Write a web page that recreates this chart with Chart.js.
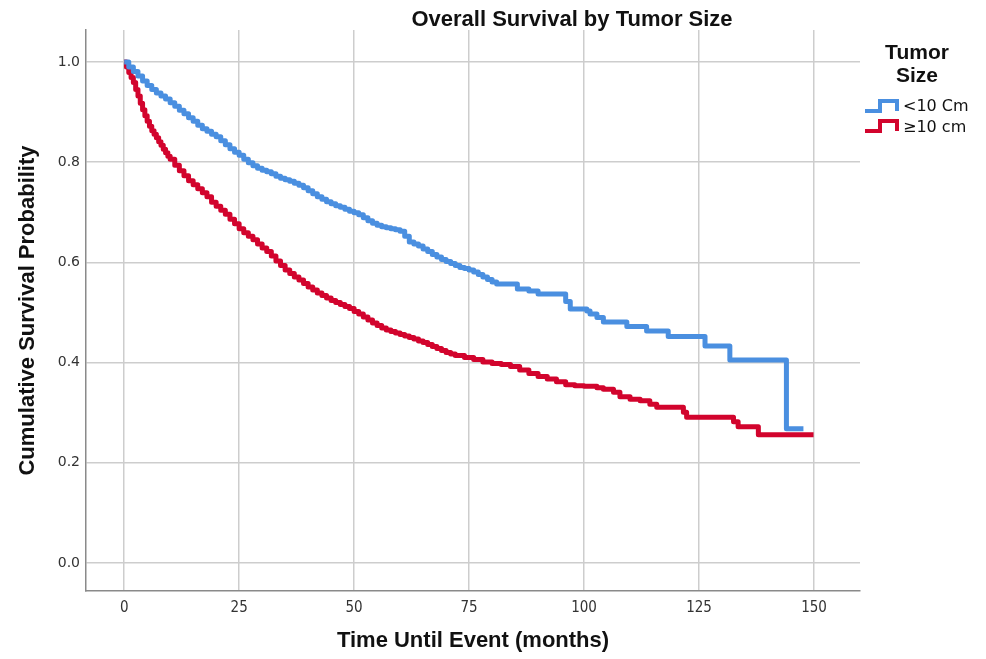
<!DOCTYPE html>
<html>
<head>
<meta charset="utf-8">
<script src="https://cdn.jsdelivr.net/npm/chart.js@4.4.1/dist/chart.umd.min.js"></script>
<style>
  html, body { margin: 0; padding: 0; background: #fff; }
  #wrap { width: 986px; height: 659px; }
</style>
</head>
<body>
<div id="wrap"><canvas id="km" width="986" height="659"></canvas></div>
<script>
// textos
const chartTitle = 'Overall Survival by Tumor Size';
const xTitle = 'Time Until Event (months)';
const yTitle = 'Cumulative Survival Probability';
const legendTitle = ['Tumor', 'Size'];
const seriesNames = ['<10 Cm', '\u226510 cm'];
const seriesColors = ['#4a8fe0', '#d2042d'];

// ejes
const xTicks = [0, 25, 50, 75, 100, 125, 150];
const yTicks = [0, 0.2, 0.4, 0.6, 0.8, 1.0];

// curva < 10 cm (tiempo en meses, supervivencia)
const smallTime = [0,1,2,3,4,5,6,7,8,9,10,11,12,13,14,15,16,17,18,19,20,
  21,22,23,24,25,26,27,28,29,30,31,32,33,34,35,36,37,38,39,40,
  41,42,43,44,45,46,47,48,49,50,51,52,53,54,55,56,57,58,59,60,
  61,62,63,64,65,66,67,68,69,70,71,72,73,74,75,76,77,78,79,80,
  81,85.5,88,90,96,97,100.6,101.3,102.8,104.2,109.3,113.6,118.3,126.3,131.7,144,147.7];
const smallSurv = [1.0,0.99,0.981,0.972,0.962,0.953,0.945,0.938,0.932,0.926,0.919,
  0.912,0.904,0.897,0.889,0.882,0.874,0.867,0.862,0.856,0.851,
  0.843,0.835,0.827,0.820,0.814,0.806,0.799,0.793,0.788,0.784,
  0.781,0.777,0.772,0.768,0.765,0.762,0.758,0.754,0.749,0.743,
  0.737,0.731,0.726,0.721,0.717,0.713,0.710,0.706,0.702,0.699,
  0.695,0.689,0.683,0.678,0.674,0.671,0.669,0.667,0.665,0.662,
  0.652,0.641,0.637,0.633,0.627,0.622,0.616,0.611,0.606,0.602,
  0.598,0.594,0.590,0.588,0.585,0.581,0.576,0.571,0.566,0.561,
  0.557,0.547,0.543,0.537,0.522,0.507,0.503,0.497,0.490,0.481,0.472,0.463,0.452,0.433,0.405,0.268,0.268];

// curva >= 10 cm
const largeTime = [0,0.5,1,1.5,2,2.5,3,3.5,4,4.5,5,5.5,6,6.5,7,7.5,8,8.5,9,9.5,10,
  11,12,13,14,15,16,17,18,19,20,21,22,23,24,25,26,27,28,29,30,
  31,32,33,34,35,36,37,38,39,40,41,42,43,44,45,46,47,48,49,50,
  51,52,53,54,55,56,57,58,59,60,61,62,63,64,65,66,67,68,69,70,
  71,72,74,76,78,80,82,84,86,88,90,92,94,96,98,100,
  102.8,104.2,106.4,107.8,110,112.2,114.3,115.8,121.6,122.3,132.5,133.5,137.9,149.9];
const largeSurv = [1.0,0.99,0.979,0.969,0.959,0.945,0.932,0.918,0.905,0.893,0.882,
  0.872,0.863,0.856,0.849,0.841,0.834,0.826,0.819,0.812,0.806,
  0.794,0.783,0.773,0.763,0.755,0.747,0.739,0.731,0.72,0.712,
  0.704,0.696,0.686,0.677,0.667,0.659,0.652,0.645,0.637,0.629,
  0.622,0.613,0.603,0.594,0.585,0.578,0.571,0.565,0.558,0.551,
  0.545,0.539,0.534,0.529,0.524,0.52,0.516,0.512,0.508,0.502,
  0.497,0.491,0.485,0.479,0.474,0.469,0.465,0.462,0.459,0.456,
  0.453,0.45,0.447,0.443,0.44,0.436,0.432,0.428,0.424,0.42,
  0.417,0.414,0.41,0.406,0.401,0.398,0.396,0.392,0.385,0.378,0.372,0.367,0.362,0.356,0.354,0.353,
  0.350,0.347,0.341,0.332,0.327,0.324,0.317,0.311,0.301,0.291,0.282,0.272,0.256,0.256];

const toPts = (ts, ss) => ts.map((t, i) => ({ x: t, y: ss[i] }));

const titleFont = { family: '"Liberation Sans", Arial, sans-serif', size: 22, weight: 'bold' };

// titulo y leyenda estilo SPSS
const overlay = {
  id: 'overlay',
  afterDraw(chart) {
    const ctx = chart.ctx;
    ctx.save();
    ctx.fillStyle = '#111';
    ctx.textAlign = 'center';
    ctx.textBaseline = 'middle';
    ctx.font = 'bold 22px "Liberation Sans", Arial, sans-serif';
    ctx.fillText(chartTitle, 572, 20);

    ctx.font = 'bold 21px "Liberation Sans", Arial, sans-serif';
    ctx.fillText(legendTitle[0], 917, 53);
    ctx.fillText(legendTitle[1], 917, 76);

    ctx.textAlign = 'left';
    ctx.font = '16px "DejaVu Sans", sans-serif';
    const rows = [{ y0: 111, y1: 101, ty: 107 }, { y0: 131, y1: 121, ty: 128 }];
    rows.forEach((r, i) => {
      ctx.strokeStyle = seriesColors[i];
      ctx.lineWidth = 4;
      ctx.lineJoin = 'miter';
      ctx.beginPath();
      ctx.moveTo(865, r.y0);
      ctx.lineTo(880, r.y0);
      ctx.lineTo(880, r.y1);
      ctx.lineTo(897, r.y1);
      ctx.lineTo(897, r.y0);
      ctx.stroke();
      ctx.fillStyle = '#111';
      ctx.fillText(seriesNames[i], 903, r.ty);
    });
    ctx.restore();
  }
};

new Chart(document.getElementById('km'), {
  type: 'line',
  data: {
    datasets: [
      { label: seriesNames[0], data: toPts(smallTime, smallSurv), borderColor: seriesColors[0] },
      { label: seriesNames[1], data: toPts(largeTime, largeSurv), borderColor: seriesColors[1] }
    ]
  },
  options: {
    responsive: false,
    devicePixelRatio: 1,
    animation: false,
    parsing: false,
    datasets: { line: { stepped: 'before', borderWidth: 5, borderJoinStyle: 'round', borderCapStyle: 'butt', pointRadius: 0, fill: false, tension: 0 } },
    layout: { padding: { top: 30, right: 126, left: 0, bottom: 0 } },
    plugins: { legend: { display: false }, title: { display: false }, tooltip: { enabled: false } },
    scales: {
      x: {
        type: 'linear', min: -8.3, max: 160,
        afterBuildTicks: s => { s.ticks = xTicks.map(v => ({ value: v })); },
        afterFit: s => { s.height = 68; },
        grid: { color: '#cdcdcd', lineWidth: 1.5, drawTicks: false, tickLength: 0 },
        border: { display: true, color: '#8a8a8a', width: 1.5 },
        ticks: { padding: 8, color: '#333', font: { family: '"Liberation Sans Narrow", "DejaVu Sans Condensed", sans-serif', size: 15 } },
        title: { display: true, text: xTitle, color: '#111', font: titleFont, padding: { top: 0, bottom: 5 } }
      },
      y: {
        type: 'linear', min: -0.056, max: 1.064,
        afterBuildTicks: s => { s.ticks = yTicks.map(v => ({ value: v })); },
        afterFit: s => { s.width = 86; },
        grid: { color: '#cdcdcd', lineWidth: 1.5, drawTicks: false, tickLength: 0 },
        border: { display: true, color: '#8a8a8a', width: 1.5 },
        ticks: { padding: 6, color: '#333', font: { family: '"DejaVu Sans", sans-serif', size: 14 }, callback: v => v.toFixed(1) },
        title: { display: true, text: yTitle, color: '#111', font: titleFont, padding: { top: 15, bottom: 0 } }
      }
    }
  },
  plugins: [overlay]
});
</script>
</body>
</html>
